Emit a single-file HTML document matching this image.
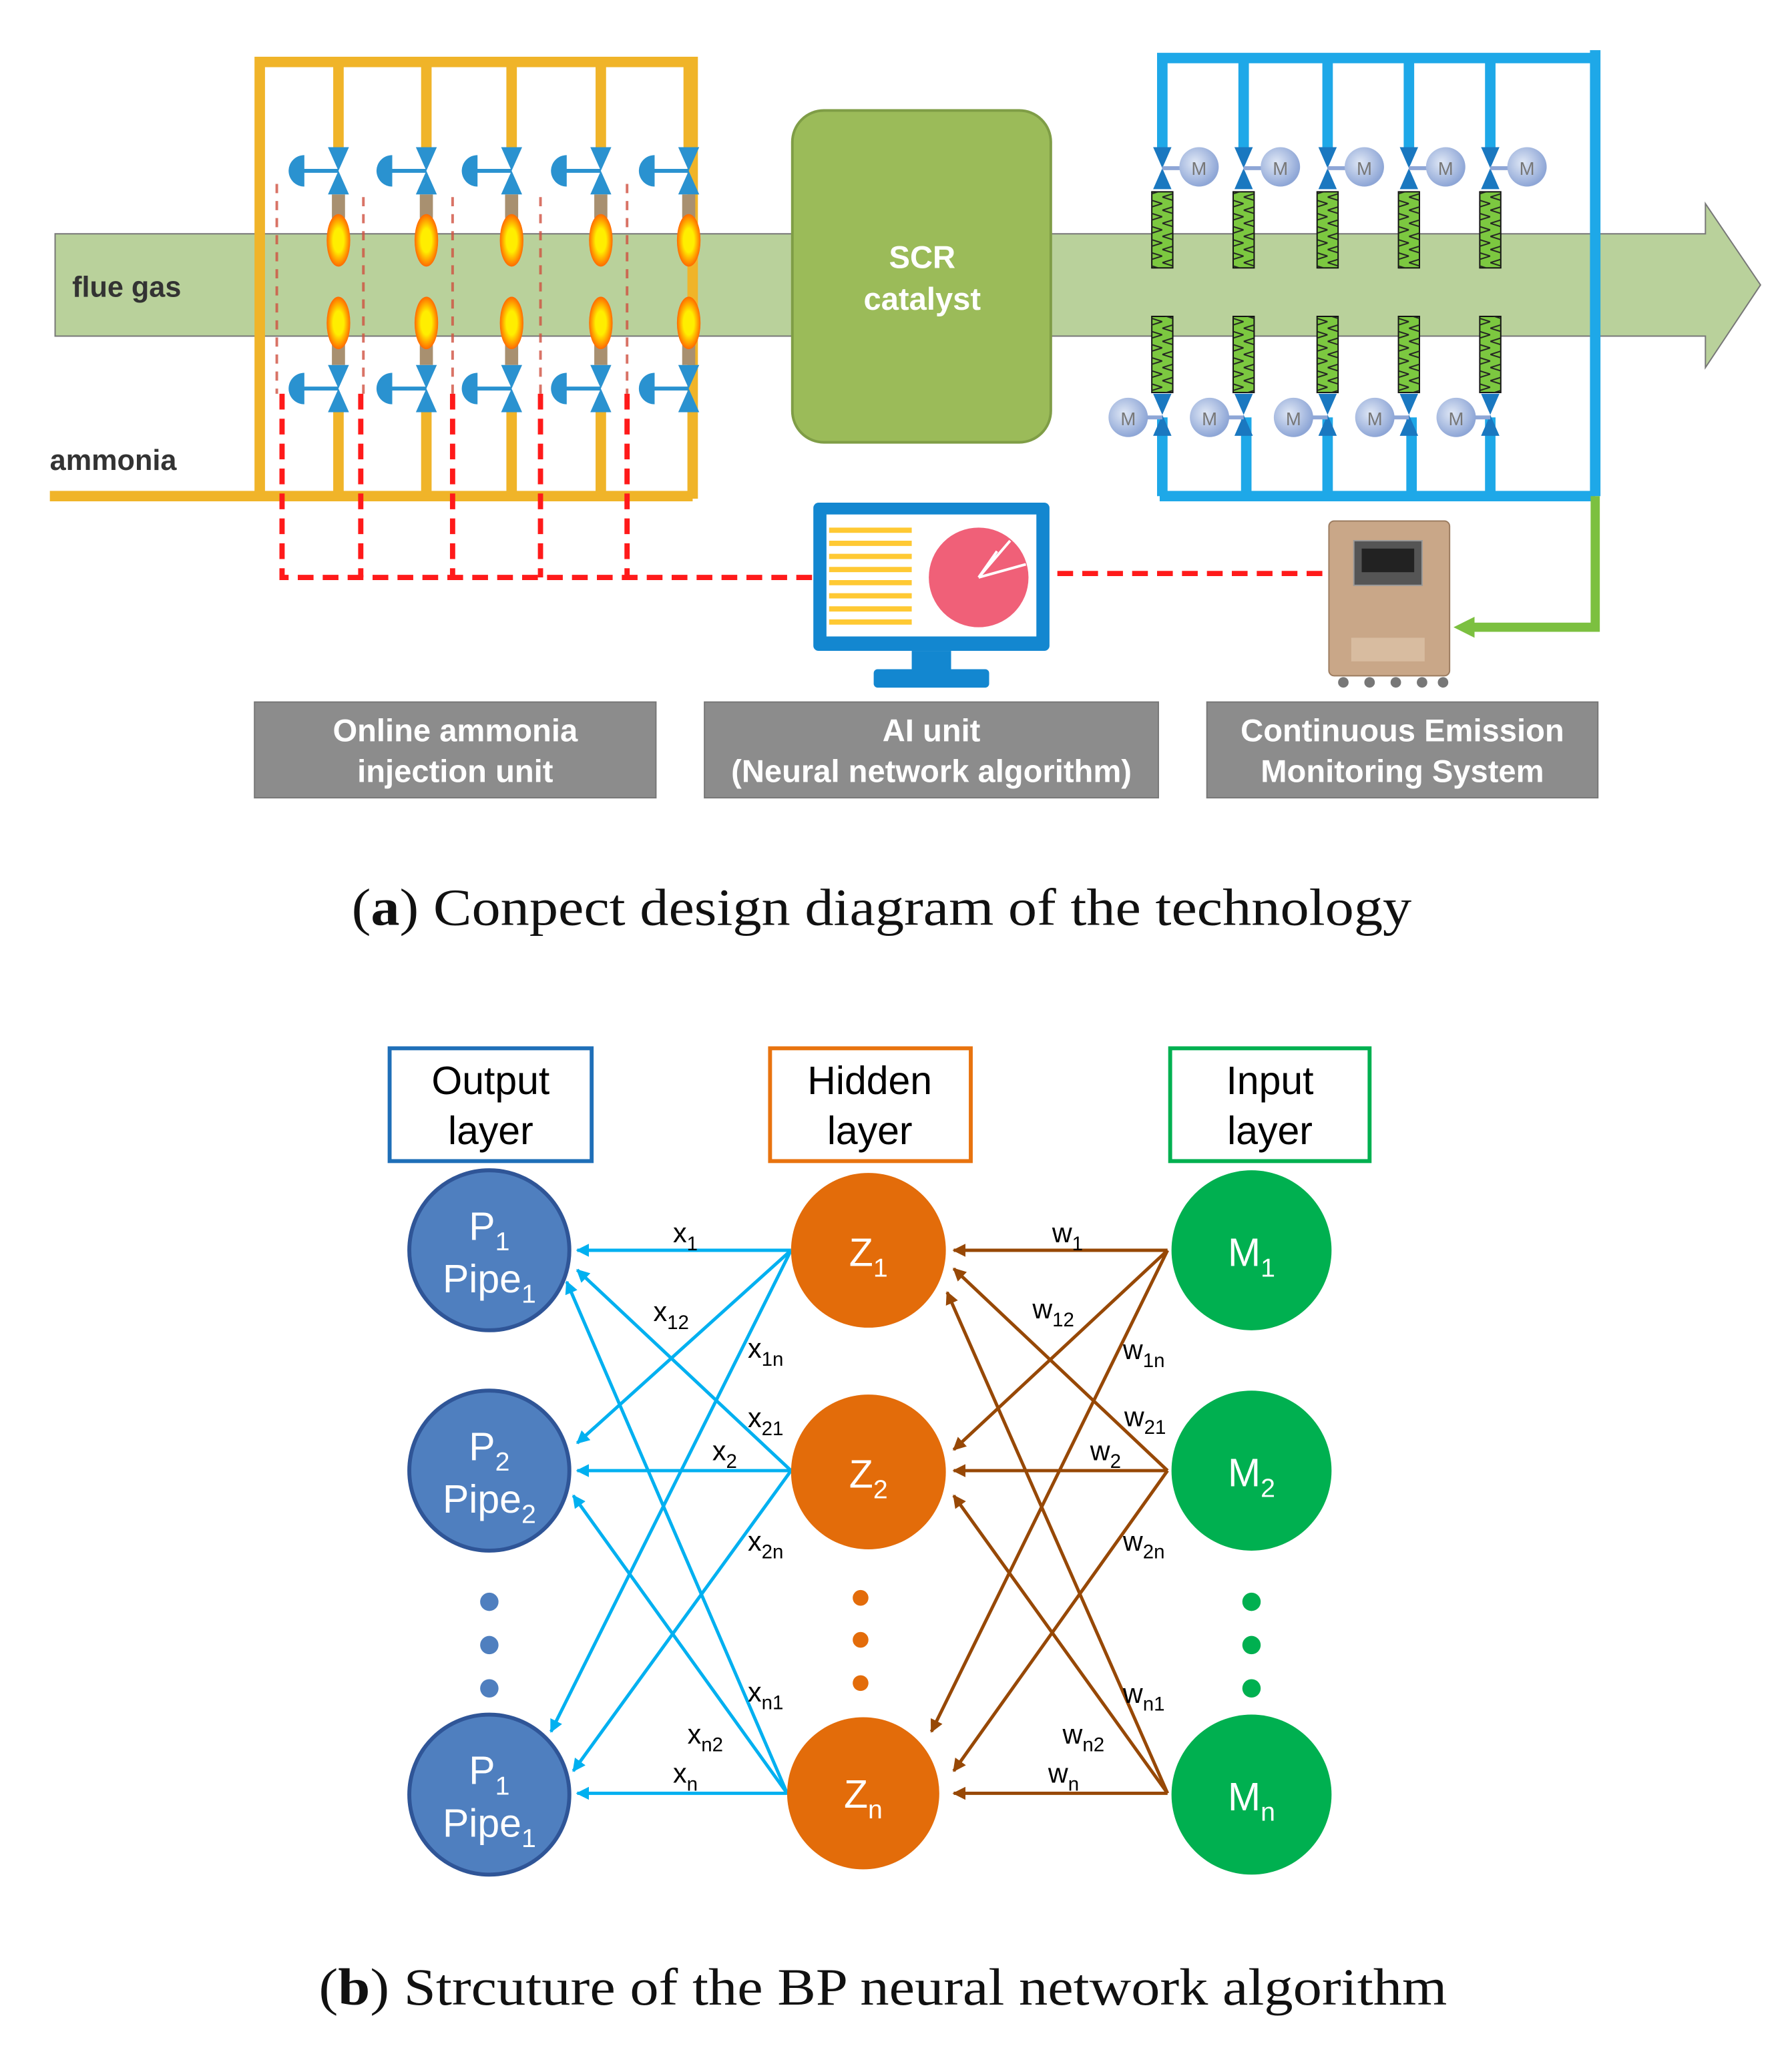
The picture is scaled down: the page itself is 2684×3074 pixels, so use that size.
<!DOCTYPE html>
<html><head><meta charset="utf-8"><style>
html,body{margin:0;padding:0;background:#fff}
svg{display:block}
</style></head><body>
<svg width="2684" height="3074" viewBox="0 0 1366 1564" xmlns="http://www.w3.org/2000/svg" font-family="Liberation Sans, sans-serif">
<defs>
<marker id="ab" markerWidth="10" markerHeight="10" refX="9" refY="5" orient="auto" markerUnits="userSpaceOnUse"><path d="M0,0 L10,5 L0,10 z" fill="#00b0f0"/></marker>
<marker id="ar" markerWidth="10" markerHeight="10" refX="9" refY="5" orient="auto" markerUnits="userSpaceOnUse"><path d="M0,0 L10,5 L0,10 z" fill="#974806"/></marker>
<radialGradient id="fl" cx="50%" cy="50%" r="50%"><stop offset="0.45" stop-color="#ffee00"/><stop offset="1" stop-color="#ff6a00"/></radialGradient>
<radialGradient id="mt" cx="40%" cy="40%" r="60%"><stop offset="0" stop-color="#e0e8f6"/><stop offset="1" stop-color="#8ea6d6"/></radialGradient>
<pattern id="zz" width="16" height="10" patternUnits="userSpaceOnUse"><path d="M0,0 L16,5 L0,10" fill="none" stroke="#222" stroke-width="1"/></pattern>
</defs>

<path d="M42,178 H1300 V155 L1342,217 L1300,280 V256 H42 Z" fill="#b9d19b" stroke="#777" stroke-width="1"/>
<text x="55" y="226" font-size="22" font-weight="bold" fill="#333">flue gas</text>

<g stroke="#f0b429" stroke-width="8" fill="none">
<path d="M198,380 V47 H528 V380"/>
<path d="M38,378 H528"/>
<path d="M258,47 V112 M325,47 V112 M390,47 V112 M458,47 V112 M525,47 V112"/>
<path d="M258,312 V378 M325,312 V378 M390,312 V378 M458,312 V378"/>
</g>
<text x="38" y="358" font-size="22" font-weight="bold" fill="#333">ammonia</text>

<g stroke="#ff1a1a" stroke-width="4" stroke-dasharray="12,7" fill="none">
<path d="M215,300 V440 H620"/>
<path d="M275,300 V440"/><path d="M345,300 V440"/><path d="M412,300 V440"/><path d="M478,300 V440"/>
<path d="M806,437 H1010"/>
</g>
<g stroke="#d05040" stroke-width="2" stroke-dasharray="7,6" fill="none" opacity="0.8">
<path d="M211,140 V300 M277,150 V300 M345,150 V300 M412,150 V300 M478,140 V300"/>
</g>

<g id="vv">
<g transform="translate(258,0)">
<path d="M-8,112 L8,112 L0,130 Z M-8,148 L8,148 L0,130 Z" fill="#2a92d0"/>
<path d="M-8,314 L8,314 L0,296 Z M-8,278 L8,278 L0,296 Z" fill="#2a92d0"/>
<line x1="-30" y1="130" x2="0" y2="130" stroke="#2a92d0" stroke-width="3"/>
<line x1="-30" y1="296" x2="0" y2="296" stroke="#2a92d0" stroke-width="3"/>
<path d="M-26,118 A12,12 0 0 0 -26,142 Z" fill="#2a92d0"/>
<path d="M-26,284 A12,12 0 0 0 -26,308 Z" fill="#2a92d0"/>
<rect x="-5" y="148" width="10" height="18" fill="#a89070"/>
<rect x="-5" y="262" width="10" height="16" fill="#a89070"/>
<ellipse cx="0" cy="183" rx="9" ry="20" fill="url(#fl)"/>
<ellipse cx="0" cy="246" rx="9" ry="20" fill="url(#fl)"/>
</g>
</g>
<use href="#vv" x="67"/><use href="#vv" x="132"/><use href="#vv" x="200"/><use href="#vv" x="267"/>

<rect x="604" y="84" width="197" height="253" rx="24" fill="#9bbb59" stroke="#7f9d46" stroke-width="2"/>
<text x="703" y="204" font-size="24" font-weight="bold" fill="#fff" text-anchor="middle">SCR</text>
<text x="703" y="236" font-size="24" font-weight="bold" fill="#fff" text-anchor="middle">catalyst</text>

<g stroke="#1ea8e8" stroke-width="8" fill="none">
<path d="M882,44 H1216 M1216,38 V378 M884,378 H1216"/>
<path d="M886,44 V112 M948,44 V112 M1012,44 V112 M1074,44 V112 M1136,44 V112"/>
<path d="M886,318 V378 M950,318 V378 M1012,318 V378 M1076,318 V378 M1136,318 V378"/>
</g>
<g id="bm">
<g transform="translate(886,0)">
<path d="M-7,112 L7,112 L0,128 Z M-7,144 L7,144 L0,128 Z" fill="#1a78c0"/>
<line x1="0" y1="128" x2="20" y2="128" stroke="#8ea6d6" stroke-width="3"/>
<circle cx="28" cy="127" r="15" fill="url(#mt)"/>
<text x="28" y="133" font-size="14" fill="#777" text-anchor="middle">M</text>
<rect x="-8" y="146" width="16" height="58" fill="#7cc840" stroke="#111"/>
<rect x="-8" y="146" width="16" height="58" fill="url(#zz)"/>
<rect x="-8" y="241" width="16" height="58" fill="#7cc840" stroke="#111"/>
<rect x="-8" y="241" width="16" height="58" fill="url(#zz)"/>
<path d="M-7,300 L7,300 L0,316 Z M-7,332 L7,332 L0,316 Z" fill="#1a78c0"/>
<line x1="0" y1="318" x2="-20" y2="318" stroke="#8ea6d6" stroke-width="3"/>
<circle cx="-26" cy="318" r="15" fill="url(#mt)"/>
<text x="-26" y="324" font-size="14" fill="#777" text-anchor="middle">M</text>
</g>
</g>
<use href="#bm" x="62"/><use href="#bm" x="126"/><use href="#bm" x="188"/><use href="#bm" x="250"/>

<path d="M1216,378 V478 H1120" stroke="#7cc040" stroke-width="7" fill="none"/>
<path d="M1108,478 L1124,470 L1124,486 Z" fill="#7cc040"/>

<rect x="620" y="383" width="180" height="113" rx="4" fill="#1387d0"/>
<rect x="630" y="392" width="160" height="93" fill="#fff"/>
<rect x="695" y="496" width="30" height="16" fill="#1387d0"/>
<rect x="666" y="510" width="88" height="14" rx="3" fill="#1387d0"/>
<g stroke="#ffc933" stroke-width="4">
<line x1="632" y1="404" x2="695" y2="404"/><line x1="632" y1="414" x2="695" y2="414"/>
<line x1="632" y1="424" x2="695" y2="424"/><line x1="632" y1="434" x2="695" y2="434"/>
<line x1="632" y1="444" x2="695" y2="444"/><line x1="632" y1="454" x2="695" y2="454"/>
<line x1="632" y1="464" x2="695" y2="464"/><line x1="632" y1="474" x2="695" y2="474"/>
</g>
<circle cx="746" cy="440" r="38" fill="#f06078"/>
<path d="M746,440 L770,412 M746,440 L782,430 M746,440 L760,420" stroke="#fff" stroke-width="2"/>

<rect x="1013" y="397" width="92" height="118" rx="4" fill="#c9a788" stroke="#9c7c60"/>
<rect x="1032" y="412" width="52" height="34" fill="#555" stroke="#999"/>
<rect x="1038" y="418" width="40" height="18" fill="#222"/>
<rect x="1030" y="486" width="56" height="18" fill="#d8bca0"/>
<g fill="#777"><circle cx="1024" cy="520" r="4"/><circle cx="1044" cy="520" r="4"/><circle cx="1064" cy="520" r="4"/><circle cx="1084" cy="520" r="4"/><circle cx="1100" cy="520" r="4"/></g>

<g fill="#8c8c8c" stroke="#777">
<rect x="194" y="535" width="306" height="73"/>
<rect x="537" y="535" width="346" height="73"/>
<rect x="920" y="535" width="298" height="73"/>
</g>
<g fill="#fff" font-size="24" font-weight="bold" text-anchor="middle">
<text x="347" y="565">Online ammonia</text><text x="347" y="596">injection unit</text>
<text x="710" y="565">AI unit</text><text x="710" y="596">(Neural network algorithm)</text>
<text x="1069" y="565">Continuous Emission</text><text x="1069" y="596">Monitoring System</text>
</g>

<text x="268" y="705" font-family="Liberation Serif, serif" font-size="40" fill="#111" textLength="808" lengthAdjust="spacingAndGlyphs">(<tspan font-weight="bold">a</tspan>) Conpect design diagram of the technology</text>

<g fill="none" stroke-width="3">
<rect x="297" y="799" width="154" height="86" stroke="#1f6fb8"/>
<rect x="587" y="799" width="153" height="86" stroke="#e8730f"/>
<rect x="892" y="799" width="152" height="86" stroke="#00b050"/>
</g>
<g font-size="30" text-anchor="middle" fill="#000">
<text x="374" y="834">Output</text><text x="374" y="872">layer</text>
<text x="663" y="834">Hidden</text><text x="663" y="872">layer</text>
<text x="968" y="834">Input</text><text x="968" y="872">layer</text>
</g>

<g stroke="#00b0f0" stroke-width="2.5" marker-end="url(#ab)">
<line x1="603" y1="953" x2="440" y2="953"/>
<line x1="603" y1="953" x2="440" y2="1100"/>
<line x1="603" y1="953" x2="420" y2="1320"/>
<line x1="603" y1="1121" x2="440" y2="968"/>
<line x1="603" y1="1121" x2="440" y2="1121"/>
<line x1="603" y1="1121" x2="437" y2="1350"/>
<line x1="600" y1="1367" x2="432" y2="977"/>
<line x1="600" y1="1367" x2="437" y2="1140"/>
<line x1="600" y1="1367" x2="440" y2="1367"/>
</g>
<g stroke="#974806" stroke-width="2.5" marker-end="url(#ar)">
<line x1="890" y1="953" x2="727" y2="953"/>
<line x1="890" y1="953" x2="727" y2="1105"/>
<line x1="890" y1="953" x2="710" y2="1320"/>
<line x1="890" y1="1121" x2="727" y2="967"/>
<line x1="890" y1="1121" x2="727" y2="1121"/>
<line x1="890" y1="1121" x2="727" y2="1350"/>
<line x1="890" y1="1367" x2="722" y2="985"/>
<line x1="890" y1="1367" x2="727" y2="1140"/>
<line x1="890" y1="1367" x2="727" y2="1367"/>
</g>

<g fill="#4f7fbf" stroke="#2f5597" stroke-width="3">
<circle cx="373" cy="953" r="61"/><circle cx="373" cy="1121" r="61"/><circle cx="373" cy="1368" r="61"/>
</g>
<g fill="#4f7fbf"><circle cx="373" cy="1221" r="7"/><circle cx="373" cy="1254" r="7"/><circle cx="373" cy="1287" r="7"/></g>
<g fill="#e36c0a"><circle cx="662" cy="953" r="59"/><circle cx="662" cy="1122" r="59"/><circle cx="658" cy="1367" r="58"/>
<circle cx="656" cy="1218" r="6"/><circle cx="656" cy="1250" r="6"/><circle cx="656" cy="1283" r="6"/></g>
<g fill="#00b050"><circle cx="954" cy="953" r="61"/><circle cx="954" cy="1121" r="61"/><circle cx="954" cy="1368" r="61"/>
<circle cx="954" cy="1221" r="7"/><circle cx="954" cy="1254" r="7"/><circle cx="954" cy="1287" r="7"/></g>

<g fill="#fff" font-size="30" text-anchor="middle">
<text x="373" y="945">P<tspan font-size="20" dy="8">1</tspan></text>
<text x="373" y="985">Pipe<tspan font-size="20" dy="8">1</tspan></text>
<text x="373" y="1113">P<tspan font-size="20" dy="8">2</tspan></text>
<text x="373" y="1153">Pipe<tspan font-size="20" dy="8">2</tspan></text>
<text x="373" y="1360">P<tspan font-size="20" dy="8">1</tspan></text>
<text x="373" y="1400">Pipe<tspan font-size="20" dy="8">1</tspan></text>
<text x="662" y="965">Z<tspan font-size="20" dy="8">1</tspan></text>
<text x="662" y="1134">Z<tspan font-size="20" dy="8">2</tspan></text>
<text x="658" y="1378">Z<tspan font-size="20" dy="8">n</tspan></text>
<text x="954" y="965">M<tspan font-size="20" dy="8">1</tspan></text>
<text x="954" y="1133">M<tspan font-size="20" dy="8">2</tspan></text>
<text x="954" y="1380">M<tspan font-size="20" dy="8">n</tspan></text>
</g>

<g fill="#000" font-size="21">
<text x="513" y="947">x<tspan font-size="15" dy="6">1</tspan></text>
<text x="498" y="1007">x<tspan font-size="15" dy="6">12</tspan></text>
<text x="570" y="1035">x<tspan font-size="15" dy="6">1n</tspan></text>
<text x="570" y="1088">x<tspan font-size="15" dy="6">21</tspan></text>
<text x="543" y="1113">x<tspan font-size="15" dy="6">2</tspan></text>
<text x="570" y="1182">x<tspan font-size="15" dy="6">2n</tspan></text>
<text x="570" y="1297">x<tspan font-size="15" dy="6">n1</tspan></text>
<text x="524" y="1329">x<tspan font-size="15" dy="6">n2</tspan></text>
<text x="513" y="1359">x<tspan font-size="15" dy="6">n</tspan></text>
<text x="802" y="947">w<tspan font-size="15" dy="6">1</tspan></text>
<text x="787" y="1005">w<tspan font-size="15" dy="6">12</tspan></text>
<text x="856" y="1036">w<tspan font-size="15" dy="6">1n</tspan></text>
<text x="857" y="1087">w<tspan font-size="15" dy="6">21</tspan></text>
<text x="831" y="1113">w<tspan font-size="15" dy="6">2</tspan></text>
<text x="856" y="1182">w<tspan font-size="15" dy="6">2n</tspan></text>
<text x="856" y="1298">w<tspan font-size="15" dy="6">n1</tspan></text>
<text x="810" y="1329">w<tspan font-size="15" dy="6">n2</tspan></text>
<text x="799" y="1359">w<tspan font-size="15" dy="6">n</tspan></text>
</g>

<text x="243" y="1528" font-family="Liberation Serif, serif" font-size="40" fill="#111" textLength="860" lengthAdjust="spacingAndGlyphs">(<tspan font-weight="bold">b</tspan>) Strcuture of the BP neural network algorithm</text>
</svg>
</body></html>
